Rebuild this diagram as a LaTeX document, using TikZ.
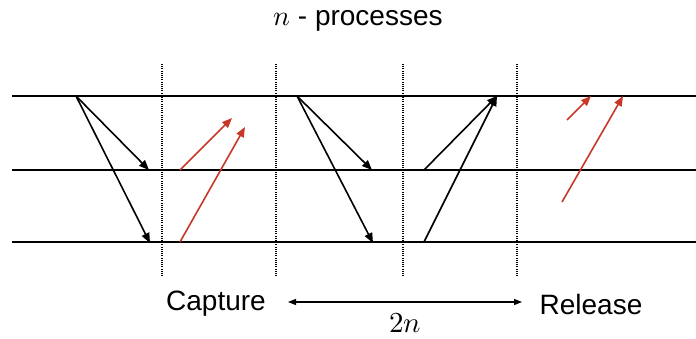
\documentclass[tikz,border=0pt]{standalone}
\usepackage{fontspec}
\setmainfont{Liberation Sans}
\usepackage{unicode-math}
\setmathfont{Latin Modern Math}
\usetikzlibrary{arrows.meta}
\definecolor{arrred}{RGB}{200,55,40}
\tikzset{
  proc/.style={line width=1.8pt, black},
  sep/.style={line width=1.3pt, dash pattern=on 1pt off 1.2pt, black},
  msg/.style={line width=1.6pt, -{Triangle[length=10pt,width=8pt]}},
  redmsg/.style={msg, arrred},
  lbl/.style={font=\fontsize{28}{32}\selectfont, inner sep=0pt},
}
\begin{document}
\begin{tikzpicture}[x=1pt,y=-1pt]
\useasboundingbox (0,0) rectangle (696,338);
% process lines
\coordinate (p1l) at (12,96);  \coordinate (p1r) at (696,96);
\coordinate (p2l) at (12,170); \coordinate (p2r) at (696,170);
\coordinate (p3l) at (12,242); \coordinate (p3r) at (696,242);
\draw[proc] (p1l) -- (p1r);
\draw[proc] (p2l) -- (p2r);
\draw[proc] (p3l) -- (p3r);
% dotted separators
\foreach \x/\n in {162/a,276/b,403/c,517/d}{
  \coordinate (\n t) at (\x,64);
  \coordinate (\n b) at (\x,276);
  \draw[sep] (\n t) -- (\n b);
}
% group 1
\coordinate (g1s) at (76,96);
\coordinate (g1e1) at (149,170);
\coordinate (g1e2) at (150,243);
\draw[msg] (g1s) -- (g1e1);
\draw[msg] (g1s) -- (g1e2);
\coordinate (r1s) at (180,170); \coordinate (r1e) at (232,118);
\coordinate (r2s) at (180,242); \coordinate (r2e) at (245,127);
\draw[redmsg] (r1s) -- (r1e);
\draw[redmsg] (r2s) -- (r2e);
% group 2
\coordinate (g2s) at (297,96);
\coordinate (g2e1) at (372,170);
\coordinate (g2e2) at (373,243);
\draw[msg] (g2s) -- (g2e1);
\draw[msg] (g2s) -- (g2e2);
\coordinate (u1s) at (424,170);
\coordinate (u2s) at (424,242);
\coordinate (ue) at (497,96);
\draw[msg] (u1s) -- (ue);
\draw[msg] (u2s) -- (ue);
% group 3 (red)
\coordinate (r3s) at (567,120); \coordinate (r3e) at (591,96);
\coordinate (r4s) at (562,202); \coordinate (r4e) at (623,96);
\draw[redmsg] (r3s) -- (r3e);
\draw[redmsg] (r4s) -- (r4e);
% labels
\node[lbl] (title) at (358,21) {$n$ - processes};
\node[lbl] (cap) at (216,304) {Capture};
\node[lbl] (rel) at (591,304) {Release};
\coordinate (da) at (288,302);
\coordinate (db) at (522,302);
\draw[line width=1.2pt, {Triangle[length=8pt,width=6pt]}-{Triangle[length=8pt,width=6pt]}] (da) -- (db);
\node[inner sep=0pt, font=\fontsize{29}{32}\selectfont] (twon) at (405,323) {$2n$};
\end{tikzpicture}
\end{document}
